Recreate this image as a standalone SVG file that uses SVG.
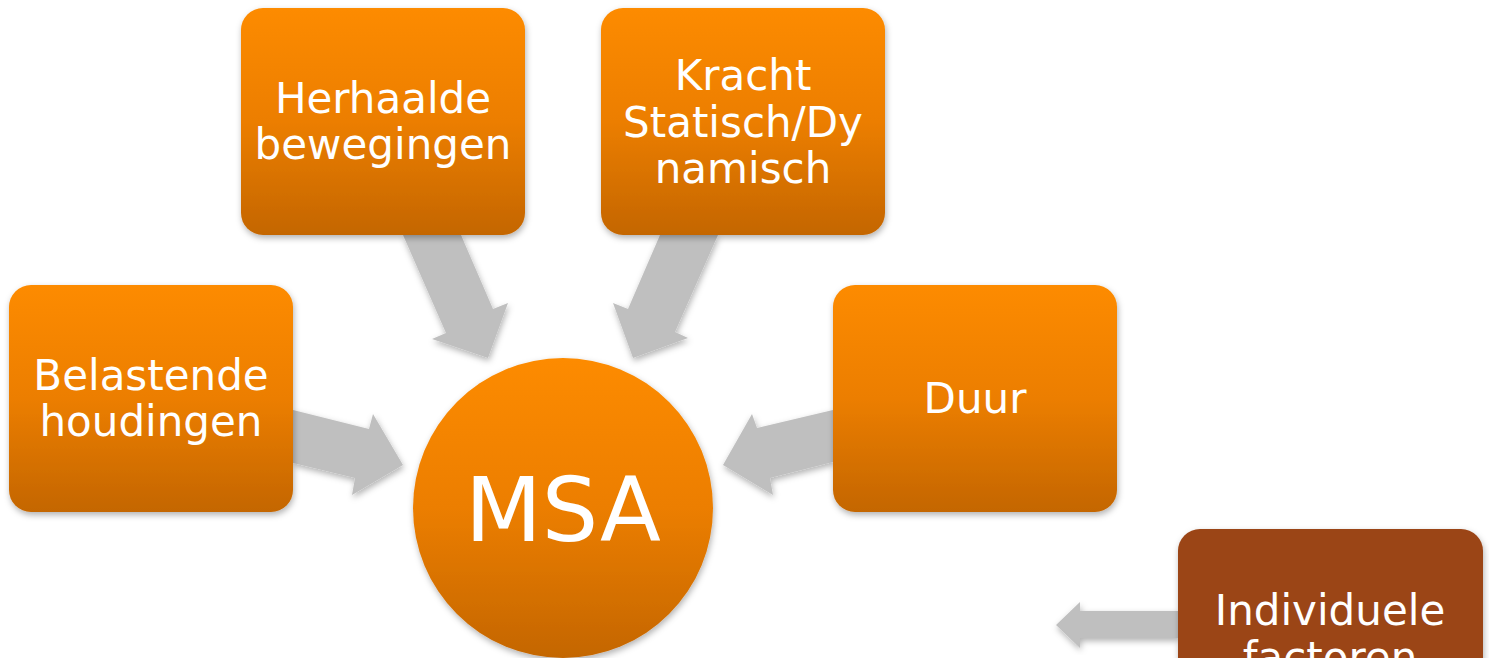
<svg xmlns="http://www.w3.org/2000/svg" width="1489" height="658" viewBox="0 0 1489 658">
<defs>
<linearGradient id="og" x1="0" y1="0" x2="0" y2="1">
<stop offset="0" stop-color="#FD8B00"/>
<stop offset="0.5" stop-color="#EC7E00"/>
<stop offset="1" stop-color="#C46600"/>
</linearGradient>
<filter id="sh" x="-10%" y="-10%" width="125%" height="125%">
<feDropShadow dx="1" dy="3" stdDeviation="3" flood-color="#000" flood-opacity="0.3"/>
</filter>
<style>
.box{fill:url(#og);filter:url(#sh);}
.arr{fill:#BFBFBF;filter:url(#sh);}
.t{font-family:"DejaVu Sans","Verdana",sans-serif;font-size:42px;fill:#fff;text-anchor:middle;}
</style>
</defs>
<g id="connectors">
<polygon class="arr" points="293,410 369,429 373,414 403,465 352,495 355,478 293,463"/>
<polygon class="arr" points="403,235 461,235 493,309 508,303 488,358 432,339 446,333"/>
<polygon class="arr" points="660,235 718,235 675,332 688,338 633,358 613,303 628,309"/>
<polygon class="arr" points="833,410 757,428 752,414 723,465 773,495 770,478 833,462"/>
<polygon class="arr" points="1178,611 1080,611 1080,602 1056,625 1080,648 1080,638 1178,638"/>
</g>
<g id="node-belastende">
<rect class="box" x="9" y="285" width="284" height="227" rx="22"/>
<text class="t" x="151" y="390">Belastende</text>
<text class="t" x="151" y="436">houdingen</text>
</g>
<g id="node-herhaalde">
<rect class="box" x="241" y="8" width="284" height="227" rx="22"/>
<text class="t" x="383" y="113">Herhaalde</text>
<text class="t" x="383" y="159">bewegingen</text>
</g>
<g id="node-kracht">
<rect class="box" x="601" y="8" width="284" height="227" rx="22"/>
<text class="t" x="743" y="90">Kracht</text>
<text class="t" x="743" y="137">Statisch/Dy</text>
<text class="t" x="743" y="183">namisch</text>
</g>
<g id="node-duur">
<rect class="box" x="833" y="285" width="284" height="227" rx="22"/>
<text class="t" x="975" y="413">Duur</text>
</g>
<g id="node-msa">
<circle class="box" cx="563" cy="508" r="150"/>
<text class="t" x="563" y="541" style="font-size:89px">MSA</text>
</g>
<g id="node-individuele">
<rect x="1178" y="529" width="305" height="200" rx="22" fill="#9B4416" filter="url(#sh)"/>
<text class="t" x="1330" y="625">Individuele</text>
<text class="t" x="1330" y="672">factoren</text>
</g>
</svg>
